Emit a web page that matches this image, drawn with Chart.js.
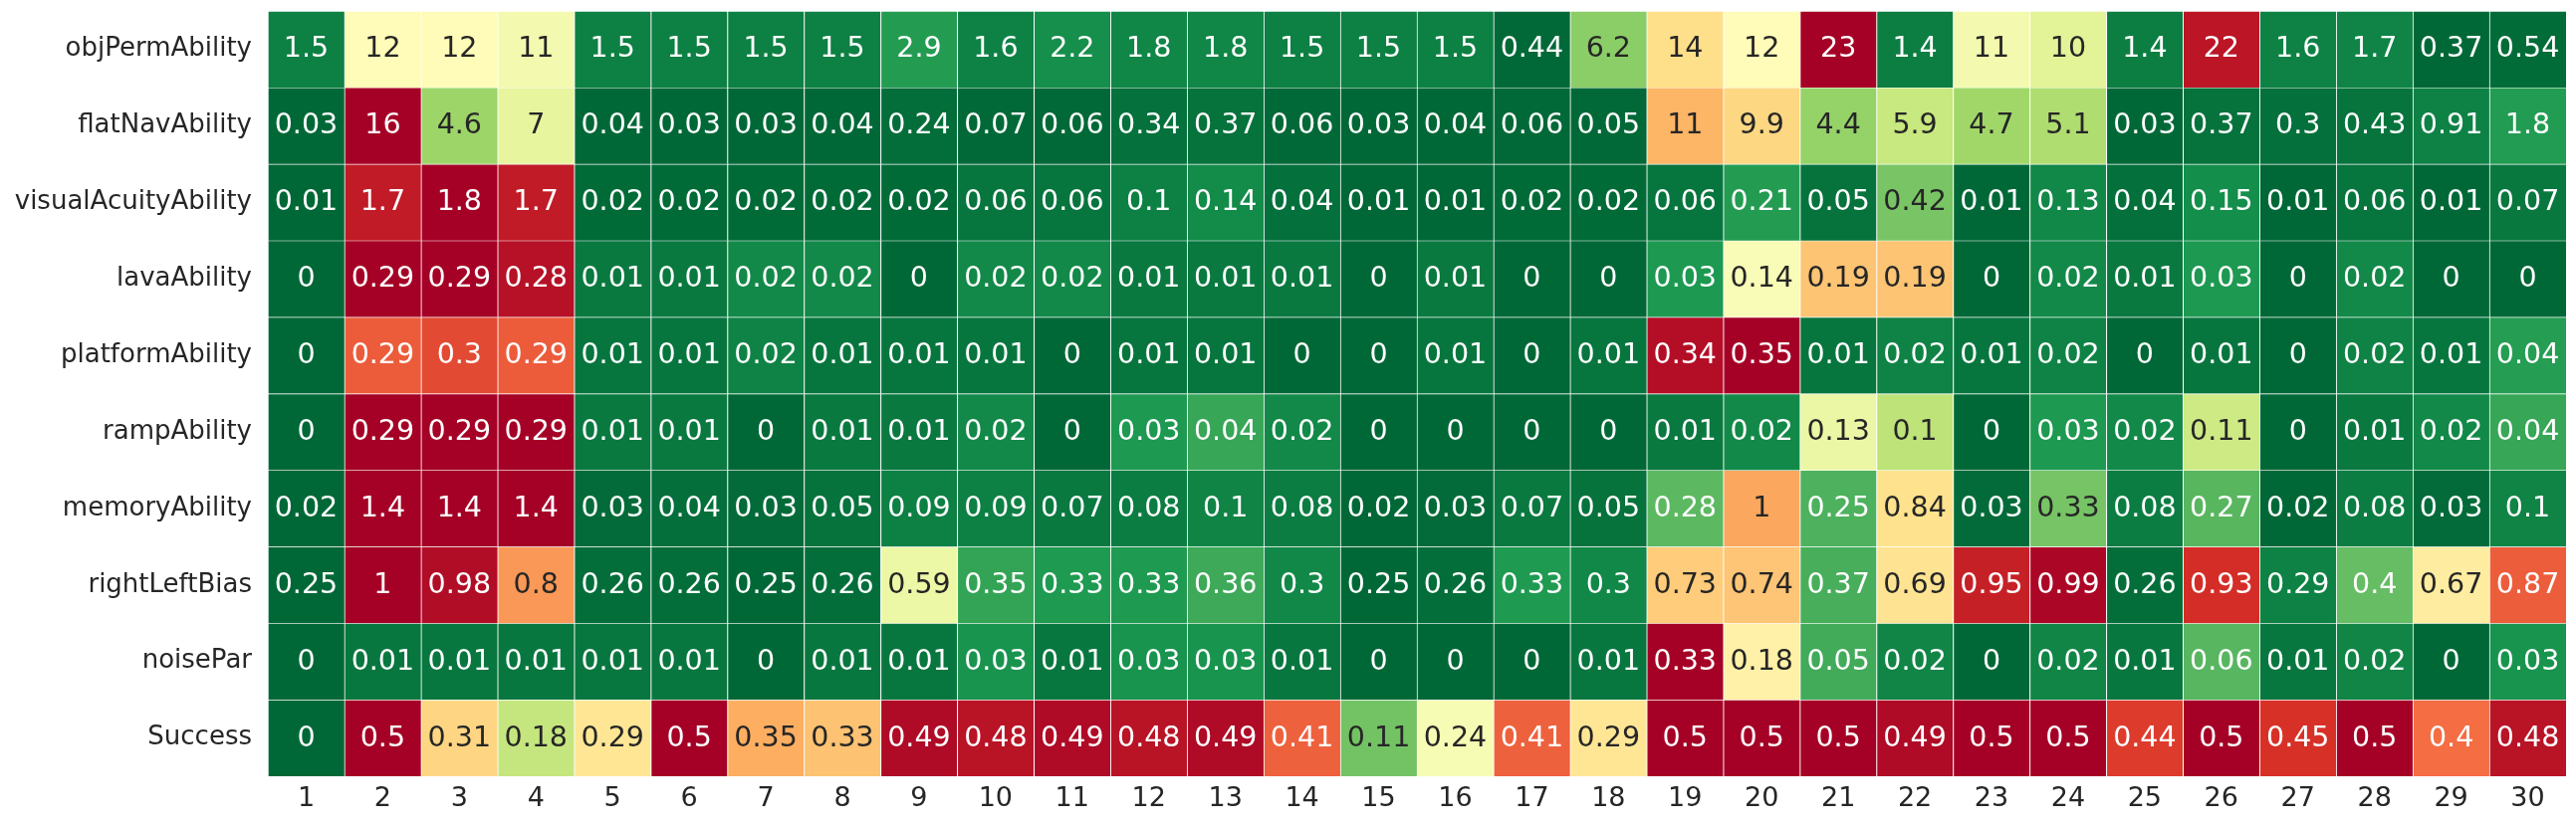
<!DOCTYPE html>
<html>
<head>
<meta charset="utf-8">
<script src="https://cdn.jsdelivr.net/npm/chart.js@4/dist/chart.umd.min.js"></script>
<style>
  html, body { margin: 0; padding: 0; background: #fff; }
  canvas { display: block; }
</style>
</head>
<body>
<canvas id="heat" width="2587" height="829"></canvas>
<script>
document.addEventListener("DOMContentLoaded", function () {

    'use strict';

    // column tick labels
    var columns = ['1', '2', '3', '4', '5', '6', '7', '8', '9', '10',
        '11', '12', '13', '14', '15', '16', '17', '18', '19', '20',
        '21', '22', '23', '24', '25', '26', '27', '28', '29', '30'];

    // row tick labels, top to bottom
    var rowNames = ['objPermAbility', 'flatNavAbility', 'visualAcuityAbility', 'lavaAbility',
        'platformAbility', 'rampAbility', 'memoryAbility', 'rightLeftBias', 'noisePar', 'Success'];

    var objPermAbility = [1.5, 12, 12, 11, 1.5, 1.5, 1.5, 1.5, 2.9, 1.6, 2.2, 1.8, 1.8, 1.5, 1.5,
        1.5, 0.44, 6.2, 14, 12, 23, 1.4, 11, 10, 1.4, 22, 1.6, 1.7, 0.37, 0.54];
    var flatNavAbility = [0.03, 16, 4.6, 7, 0.04, 0.03, 0.03, 0.04, 0.24, 0.07, 0.06, 0.34, 0.37, 0.06, 0.03,
        0.04, 0.06, 0.05, 11, 9.9, 4.4, 5.9, 4.7, 5.1, 0.03, 0.37, 0.3, 0.43, 0.91, 1.8];
    var visualAcuityAbility = [0.01, 1.7, 1.8, 1.7, 0.02, 0.02, 0.02, 0.02, 0.02, 0.06, 0.06, 0.1, 0.14, 0.04, 0.01,
        0.01, 0.02, 0.02, 0.06, 0.21, 0.05, 0.42, 0.01, 0.13, 0.04, 0.15, 0.01, 0.06, 0.01, 0.07];
    var lavaAbility = [0, 0.29, 0.29, 0.28, 0.01, 0.01, 0.02, 0.02, 0, 0.02, 0.02, 0.01, 0.01, 0.01, 0,
        0.01, 0, 0, 0.03, 0.14, 0.19, 0.19, 0, 0.02, 0.01, 0.03, 0, 0.02, 0, 0];
    var platformAbility = [0, 0.29, 0.3, 0.29, 0.01, 0.01, 0.02, 0.01, 0.01, 0.01, 0, 0.01, 0.01, 0, 0,
        0.01, 0, 0.01, 0.34, 0.35, 0.01, 0.02, 0.01, 0.02, 0, 0.01, 0, 0.02, 0.01, 0.04];
    var rampAbility = [0, 0.29, 0.29, 0.29, 0.01, 0.01, 0, 0.01, 0.01, 0.02, 0, 0.03, 0.04, 0.02, 0,
        0, 0, 0, 0.01, 0.02, 0.13, 0.1, 0, 0.03, 0.02, 0.11, 0, 0.01, 0.02, 0.04];
    var memoryAbility = [0.02, 1.4, 1.4, 1.4, 0.03, 0.04, 0.03, 0.05, 0.09, 0.09, 0.07, 0.08, 0.1, 0.08, 0.02,
        0.03, 0.07, 0.05, 0.28, 1, 0.25, 0.84, 0.03, 0.33, 0.08, 0.27, 0.02, 0.08, 0.03, 0.1];
    var rightLeftBias = [0.25, 1, 0.98, 0.8, 0.26, 0.26, 0.25, 0.26, 0.59, 0.35, 0.33, 0.33, 0.36, 0.3, 0.25,
        0.26, 0.33, 0.3, 0.73, 0.74, 0.37, 0.69, 0.95, 0.99, 0.26, 0.93, 0.29, 0.4, 0.67, 0.87];
    var noisePar = [0, 0.01, 0.01, 0.01, 0.01, 0.01, 0, 0.01, 0.01, 0.03, 0.01, 0.03, 0.03, 0.01, 0,
        0, 0, 0.01, 0.33, 0.18, 0.05, 0.02, 0, 0.02, 0.01, 0.06, 0.01, 0.02, 0, 0.03];
    var success = [0, 0.5, 0.31, 0.18, 0.29, 0.5, 0.35, 0.33, 0.49, 0.48, 0.49, 0.48, 0.49, 0.41, 0.11,
        0.24, 0.41, 0.29, 0.5, 0.5, 0.5, 0.49, 0.5, 0.5, 0.44, 0.5, 0.45, 0.5, 0.4, 0.48];

    var rows = [objPermAbility, flatNavAbility, visualAcuityAbility, lavaAbility, platformAbility,
        rampAbility, memoryAbility, rightLeftBias, noisePar, success];

    // RdYlGn (colorbrewer, 11 steps), used reversed
    var rdylgn = ['#a50026', '#d73027', '#f46d43', '#fdae61', '#fee08b', '#ffffbf',
        '#d9ef8b', '#a6d96a', '#66bd63', '#1a9850', '#006837'].map(function (h) {
        return [parseInt(h.substr(1, 2), 16), parseInt(h.substr(3, 2), 16), parseInt(h.substr(5, 2), 16)];
    });

    function cmap(t) {
        // reversed: low -> green, high -> red
        var p = Math.min(Math.max(1 - t, 0), 1) * (rdylgn.length - 1);
        var i = Math.min(Math.floor(p), rdylgn.length - 2);
        var f = p - i;
        var a = rdylgn[i], b = rdylgn[i + 1];
        return [0, 1, 2].map(function (k) { return a[k] + (b[k] - a[k]) * f; });
    }

    function luminance(rgb) {
        var c = rgb.map(function (v) {
            v = v / 255;
            return v <= 0.03928 ? v / 12.92 : Math.pow((v + 0.055) / 1.055, 2.4);
        });
        return 0.2126 * c[0] + 0.7152 * c[1] + 0.0722 * c[2];
    }

    function fmt(v) {
        return String(Number(v.toPrecision(2)));
    }

    var datasets = rows.map(function (vals, r) {
        var lo = Math.min.apply(null, vals), hi = Math.max.apply(null, vals);
        var colors = [], textColors = [];
        vals.forEach(function (v) {
            var rgb = cmap(hi > lo ? (v - lo) / (hi - lo) : 0);
            colors.push('rgb(' + rgb.map(Math.round).join(',') + ')');
            textColors.push(luminance(rgb) > 0.408 ? '#262626' : '#ffffff');
        });
        return {
            label: rowNames[r],
            data: vals.map(function () { return [r, r + 1]; }),
            values: vals,
            backgroundColor: colors,
            textColors: textColors,
            borderColor: '#ffffff',
            borderWidth: { top: 1, left: 1, right: 0, bottom: 0 },
            borderSkipped: false,
            barPercentage: 1,
            categoryPercentage: 1,
            grouped: false
        };
    });

    var cellText = {
        id: 'cellText',
        afterDatasetsDraw: function (chart) {
            var ctx = chart.ctx;
            ctx.save();
            ctx.font = '28.5px "DejaVu Sans"';
            ctx.textAlign = 'center';
            ctx.textBaseline = 'alphabetic';
            chart.data.datasets.forEach(function (ds, r) {
                chart.getDatasetMeta(r).data.forEach(function (bar, c) {
                    ctx.fillStyle = ds.textColors[c];
                    ctx.fillText(fmt(ds.values[c]), bar.x, (bar.y + bar.base) / 2 + 8);
                });
            });
            ctx.restore();
        }
    };

    var tickFont = { family: 'DejaVu Sans', size: 26 };

    new Chart(document.getElementById('heat'), {
        type: 'bar',
        data: { labels: columns, datasets: datasets },
        options: {
            responsive: false,
            animation: false,
            layout: { padding: { top: 11, right: 10, left: 0, bottom: 0 } },
            plugins: { legend: { display: false }, tooltip: { enabled: false } },
            scales: {
                x: {
                    type: 'category',
                    offset: true,
                    grid: { display: false, drawTicks: false },
                    border: { display: false },
                    ticks: { font: { family: 'DejaVu Sans', size: 27 }, color: '#262626', padding: 7, maxRotation: 0, autoSkip: false },
                    afterFit: function (scale) {
                        scale.height = 49;
                        scale.paddingLeft = 0;
                        scale.paddingRight = 0;
                    }
                },
                y: {
                    type: 'linear',
                    min: 0,
                    max: rowNames.length,
                    reverse: true,
                    grid: { display: false, drawTicks: false },
                    border: { display: false },
                    afterBuildTicks: function (scale) {
                        scale.ticks = rowNames.map(function (n, i) { return { value: i + 0.5 }; });
                    },
                    ticks: {
                        font: tickFont,
                        color: '#262626',
                        padding: 16,
                        autoSkip: false,
                        callback: function (v, i) { return rowNames[i]; }
                    },
                    afterFit: function (scale) {
                        scale.width = 269;
                        scale.paddingTop = 0;
                        scale.paddingBottom = 0;
                    }
                }
            }
        },
        plugins: [cellText]
    });

});
</script>
</body>
</html>
